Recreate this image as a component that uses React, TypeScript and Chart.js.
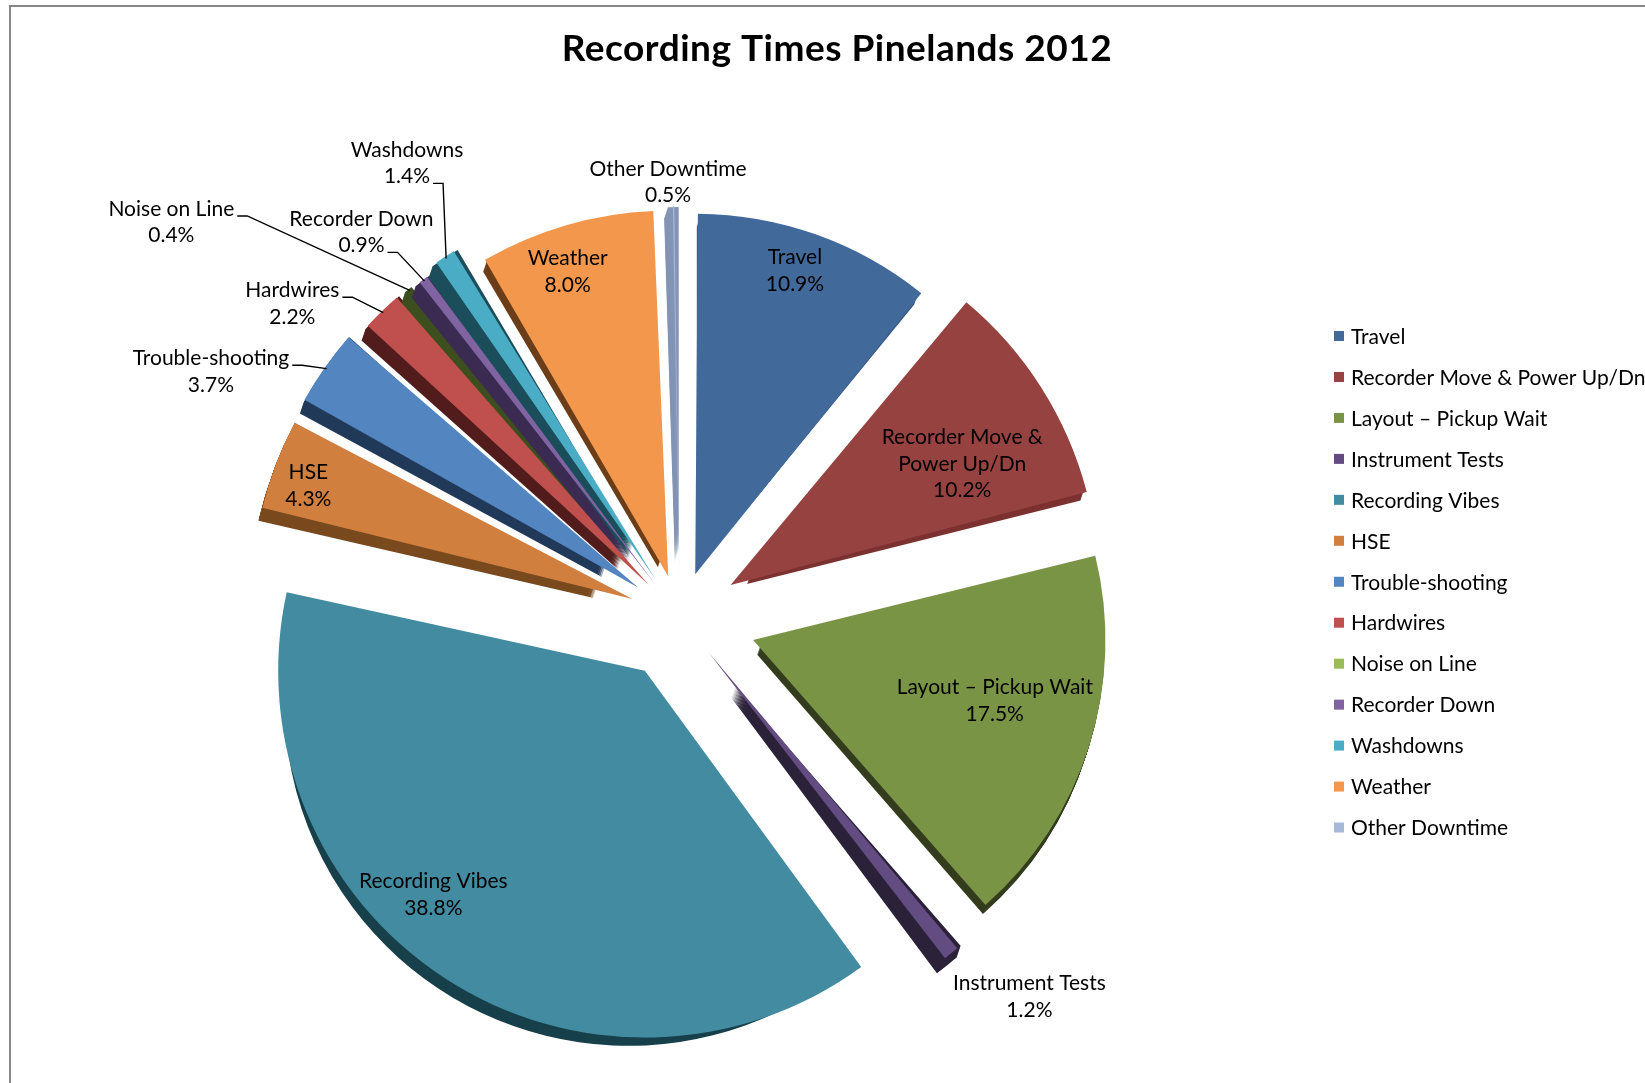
import React, { useEffect, useRef } from "react";
import { Chart, registerables } from "chart.js";

Chart.register(...registerables);

// ---------- data ----------
const title = "Recording Times Pinelands 2012";
const categories = [
  "Travel",
  "Recorder Move & Power Up/Dn",
  "Layout – Pickup Wait",
  "Instrument Tests",
  "Recording Vibes",
  "HSE",
  "Trouble-shooting",
  "Hardwires",
  "Noise on Line",
  "Recorder Down",
  "Washdowns",
  "Weather",
  "Other Downtime",
];
const percentages = [10.9, 10.2, 17.5, 1.2, 38.8, 4.3, 3.7, 2.2, 0.4, 0.9, 1.4, 8.0, 0.5];

// ---------- styles ----------
const topColors = [
  "#41699a", "#954240", "#7a9446", "#634c81", "#428ba1", "#d07f3e", "#5385c0",
  "#c0504d", "#9bbb59", "#8064a2", "#4bacc6", "#f2974b", "#a7b8d8",
];
const sideColors = [
  "#385b86", "#7c3230", "#333d1e", "#2b2139", "#17404b", "#7a4a1f", "#223a5a",
  "#521c1c", "#3d4e1f", "#3b2b52", "#1b4d5a", "#6b3e19", "#8394b4",
];
// explosion distance of each slice, in px
const explode = [62, 84, 85, 88, 87, 88, 90, 83, 82, 80, 86, 64, 67];
// label placement: angle shift from slice middle (deg), distance as fraction of radius
const labelAngle = [-1.5, 5.3, -3.5, -4.5, 11.1, -1.6, -9, -8.1, -14.4, -2.8, 2.5, -2.2, -0.8];
const labelRadius = [0.88, 0.69, 0.7, 1.245, 0.83, 0.89, 1.28, 1.21, 1.64, 1.22, 1.29, 0.87, 1.07];
// which text line a leader line starts from (-1 = no leader)
const leaderLine = [-1, -1, -1, -1, -1, -1, 0, 0, 0, 1, 1, -1, -1];

const FONT_FAMILY = 'Lato, "Noto Sans", sans-serif';
const LABEL_FONT = `21px ${FONT_FAMILY}`;
const TITLE_FONT = `bold 37px ${FONT_FAMILY}`;
const LINE_H = 26.5;
const DEPTH = 12;
const DEPTH_DX = -4;
const RADIUS = 344;

const total = percentages.reduce((a, b) => a + b, 0);

function offsetFor(i: number) {
  const circ = (2 * Math.PI * percentages[i]) / total;
  return (4 * explode[i]) / (2 - Math.sin(Math.min(Math.PI, circ)));
}

function geom(el: any) {
  const p = el.getProps(["x", "y", "startAngle", "endAngle", "outerRadius"], true);
  const off = (el.options.offset || 0) / 4;
  const circ = p.endAngle - p.startAngle;
  const fix = 1 - Math.sin(Math.min(Math.PI, circ));
  const d = off + off * fix;
  const half = (p.startAngle + p.endAngle) / 2;
  return {
    cx: p.x + Math.cos(half) * d,
    cy: p.y + Math.sin(half) * d,
    half,
    r: p.outerRadius,
    start: p.startAngle,
    end: p.endAngle,
  };
}

function wrap(ctx: CanvasRenderingContext2D, text: string, maxW: number) {
  const words = text.split(" ");
  const lines: string[] = [];
  let cur = "";
  for (const w of words) {
    const t = cur ? cur + " " + w : w;
    if (cur && ctx.measureText(t).width > maxW) {
      lines.push(cur);
      cur = w;
    } else cur = t;
  }
  if (cur) lines.push(cur);
  return lines;
}

const depthPlugin = {
  id: "depth3d",
  beforeDatasetsDraw(chart: any) {
    const ctx = chart.ctx;
    const meta = chart.getDatasetMeta(0);
    ctx.save();
    meta.data.forEach((el: any, i: number) => {
      const g = geom(el);
      ctx.fillStyle = sideColors[i];
      for (let k = DEPTH; k >= 1; k--) {
        const sx = (DEPTH_DX * k) / DEPTH;
        ctx.beginPath();
        ctx.moveTo(g.cx + sx, g.cy + k);
        ctx.arc(g.cx + sx, g.cy + k, g.r, g.start, g.end);
        ctx.closePath();
        ctx.fill();
      }
    });
    ctx.restore();
  },
};

const labelPlugin = {
  id: "sliceLabels",
  afterDatasetsDraw(chart: any) {
    const ctx = chart.ctx;
    const meta = chart.getDatasetMeta(0);
    ctx.save();
    ctx.font = LABEL_FONT;
    ctx.textAlign = "center";
    ctx.textBaseline = "middle";
    meta.data.forEach((el: any, i: number) => {
      const g = geom(el);
      const a = g.half + (labelAngle[i] * Math.PI) / 180;
      const ax = g.cx + Math.cos(a) * g.r * labelRadius[i];
      const ay = g.cy + Math.sin(a) * g.r * labelRadius[i];
      const pct = ((percentages[i] / total) * 100).toFixed(1) + "%";
      const lines = [...wrap(ctx, categories[i], 200), pct];
      const top = ay - ((lines.length - 1) * LINE_H) / 2;
      ctx.fillStyle = "#000";
      lines.forEach((ln, j) => ctx.fillText(ln, ax, top + j * LINE_H));
      if (leaderLine[i] >= 0) {
        const li = leaderLine[i];
        const w = ctx.measureText(lines[li]).width;
        const sx = ax + w / 2 + 3;
        const sy = top + li * LINE_H + 7;
        const tx = g.cx + Math.cos(g.half) * (g.r - 2);
        const ty = g.cy + Math.sin(g.half) * (g.r - 2);
        ctx.strokeStyle = "#000";
        ctx.lineWidth = 1.4;
        ctx.beginPath();
        ctx.moveTo(sx, sy);
        ctx.lineTo(sx + 10, sy);
        ctx.lineTo(tx, ty);
        ctx.stroke();
      }
    });
    ctx.restore();
  },
};

const decorPlugin = {
  id: "titleLegend",
  afterDraw(chart: any) {
    const ctx = chart.ctx;
    ctx.save();
    ctx.fillStyle = "#000";
    ctx.font = TITLE_FONT;
    ctx.textAlign = "center";
    ctx.textBaseline = "middle";
    (ctx as any).letterSpacing = "0.5px";
    ctx.fillText(title, 837, 49);
    (ctx as any).letterSpacing = "0px";
    ctx.font = LABEL_FONT;
    ctx.textAlign = "left";
    categories.forEach((c, i) => {
      const y = 336 + i * 40.96;
      ctx.fillStyle = topColors[i];
      ctx.fillRect(1334, y - 5, 10, 10);
      ctx.fillStyle = "#000";
      ctx.fillText(c, 1351, y + 1);
    });
    ctx.restore();
  },
};

export default function App() {
  const ref = useRef<HTMLCanvasElement | null>(null);
  useEffect(() => {
    if (!ref.current) return;
    const chart = new Chart(ref.current, {
      type: "pie",
      data: {
        labels: categories,
        datasets: [
          {
            data: percentages,
            backgroundColor: topColors,
            borderWidth: 0,
            offset: percentages.map((_, i) => offsetFor(i)),
            radius: RADIUS,
          } as any,
        ],
      },
      options: {
        responsive: false,
        animation: false,
        layout: { padding: { left: 0, right: 285, top: 151, bottom: 0 } },
        plugins: {
          legend: { display: false },
          title: { display: false },
          tooltip: { enabled: false },
        },
      },
      plugins: [depthPlugin, labelPlugin, decorPlugin],
    });
    return () => chart.destroy();
  }, []);

  return (
    <div style={{ position: "fixed", inset: 0, overflow: "hidden", background: "#fff" }}>
      <div
        style={{
          position: "absolute",
          left: 9,
          top: 5,
          width: 1700,
          height: 1200,
          border: "2px solid #868686",
          boxSizing: "border-box",
        }}
      />
      <canvas
        ref={ref}
        width={1645}
        height={1083}
        style={{ position: "absolute", left: 0, top: 0, width: 1645, height: 1083 }}
      />
    </div>
  );
}
